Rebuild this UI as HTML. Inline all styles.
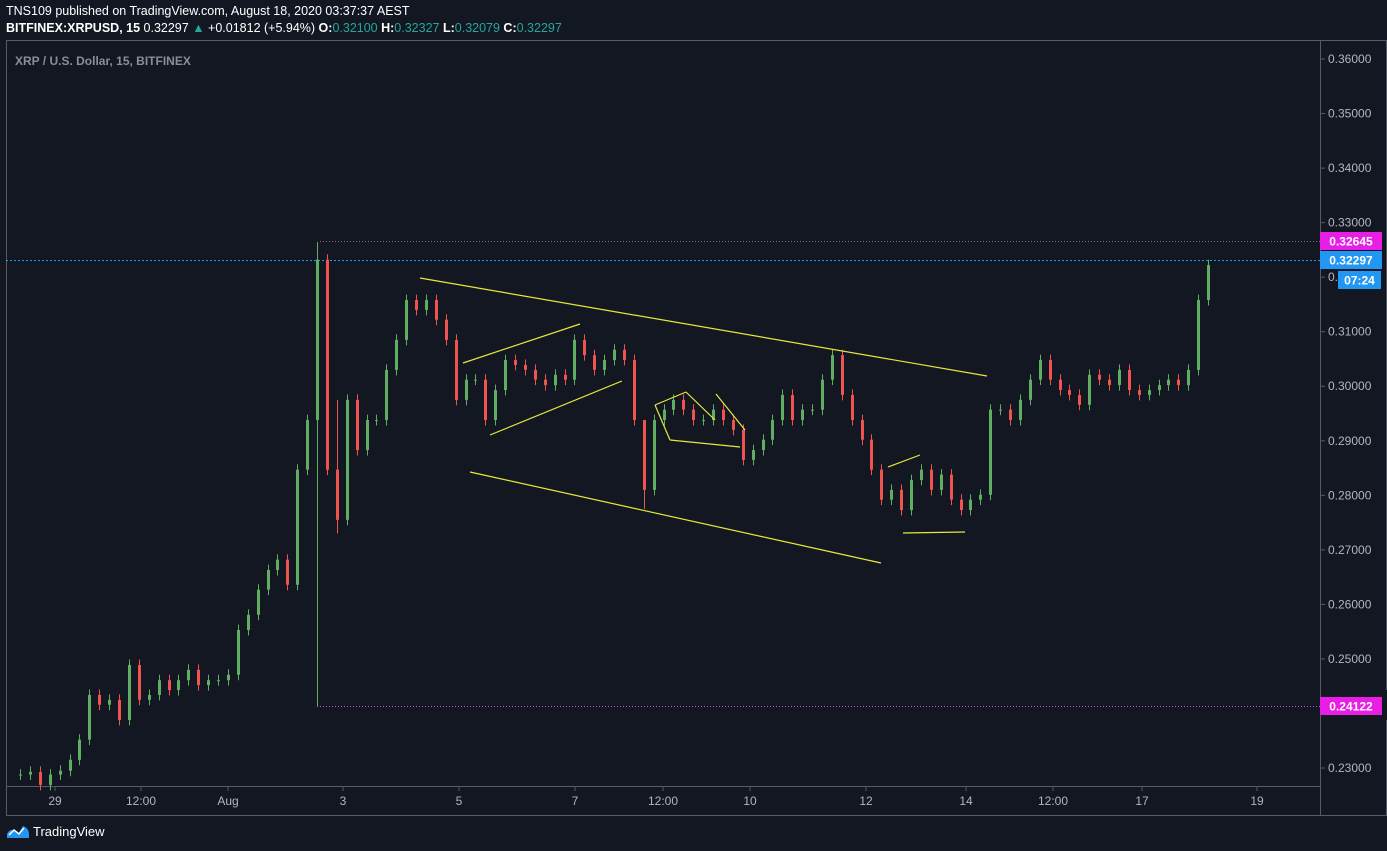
<!DOCTYPE html>
<html><head><meta charset="utf-8"><style>
html,body{margin:0;padding:0;background:#131722;width:1387px;height:851px;overflow:hidden;font-family:"Liberation Sans",sans-serif}
.hdr{position:absolute;left:6px;color:#fff;font-size:12.5px;white-space:nowrap}
.g{color:#26a69a}
</style></head><body>
<div class="hdr" style="top:4px">TNS109 published on TradingView.com, August 18, 2020 03:37:37 AEST</div>
<div class="hdr" style="top:21px;font-weight:bold">BITFINEX:XRPUSD, 15 <span style="font-weight:normal">0.32297 <span class="g">▲</span> +0.01812 (+5.94%)</span> O:<span class="g" style="font-weight:normal">0.32100</span> H:<span class="g" style="font-weight:normal">0.32327</span> L:<span class="g" style="font-weight:normal">0.32079</span> C:<span class="g" style="font-weight:normal">0.32297</span></div>
<svg id="c" width="1387" height="851" style="position:absolute;left:0;top:0"></svg>
<script>
const closes=[0.2288,0.2293,0.2269,0.2288,0.2295,0.2315,0.2352,0.2434,0.2416,0.2425,0.2388,0.2489,0.2425,0.2434,0.2461,0.2443,0.2461,0.2480,0.2452,0.2461,0.2461,0.2471,0.2553,0.2581,0.2627,0.2663,0.2682,0.2636,0.2847,0.2938,0.3232,0.2847,0.2755,0.2975,0.2883,0.2938,0.2938,0.3030,0.3085,0.3158,0.3140,0.3158,0.3122,0.3085,0.2975,0.3012,0.3012,0.2938,0.2993,0.3048,0.3039,0.3030,0.3012,0.3002,0.3021,0.3012,0.3085,0.3057,0.3030,0.3048,0.3067,0.3048,0.2938,0.2810,0.2938,0.2957,0.2975,0.2957,0.2938,0.2938,0.2957,0.2938,0.2920,0.2865,0.2883,0.2902,0.2938,0.2984,0.2938,0.2957,0.2957,0.3012,0.3057,0.2984,0.2938,0.2902,0.2847,0.2792,0.2810,0.2773,0.2828,0.2847,0.2810,0.2838,0.2792,0.2773,0.2792,0.2801,0.2957,0.2957,0.2938,0.2975,0.3012,0.3048,0.3012,0.2993,0.2984,0.2966,0.3021,0.3012,0.3002,0.3030,0.2993,0.2984,0.2993,0.3002,0.3012,0.3002,0.3030,0.3158,0.3222];
const spikeIdx=[30,63,32];
const spikeHigh=[0.32645,0.2938,0.2975];
const spikeLow=[0.24122,0.2775,0.2730];
const priceTicks=[0.36,0.35,0.34,0.33,0.32,0.31,0.30,0.29,0.28,0.27,0.26,0.25,0.24,0.23];
const timeLabels=["29","12:00","Aug","3","5","7","12:00","10","12","14","12:00","17","19"];
const timePos=[55,141,228,343,459,575,663,750,866,966,1053,1142,1257];
const svg=document.getElementById('c');const NS='http://www.w3.org/2000/svg';
function y(p){return 59+(0.36-p)*5454;}
function x(i){return 20+i*9.9;}
function el(t,a,par){const e=document.createElementNS(NS,t);for(const k in a)e.setAttribute(k,a[k]);(par||svg).appendChild(e);return e;}
let f=el('rect',{x:6.5,y:40.5,width:1380,height:775,fill:'none',stroke:'#555a66'});


el('line',{x1:1320.5,y1:40,x2:1320.5,y2:815,stroke:'#555a66'});
el('line',{x1:6,y1:786.5,x2:1320,y2:786.5,stroke:'#555a66'});
let tt=el('text',{x:15,y:65,fill:'#8a8e99','font-size':12,'font-weight':'bold'});tt.textContent='XRP / U.S. Dollar, 15, BITFINEX';


priceTicks.forEach(p=>{const yy=y(p);el('line',{x1:1320,y1:yy,x2:1325,y2:yy,stroke:'#555a66'});
const t=el('text',{x:1328,y:yy+4,fill:'#b2b5be','font-size':12});t.textContent=p.toFixed(5);

});
timeLabels.forEach((l,i)=>{el('line',{x1:timePos[i],y1:786,x2:timePos[i],y2:791,stroke:'#555a66'});
const t=el('text',{x:timePos[i],y:805,fill:'#b2b5be','font-size':12,'text-anchor':'middle'});t.textContent=l;

});
el('line',{x1:320,y1:241.5,x2:1320,y2:241.5,stroke:'#8a6a7a','stroke-dasharray':'1 2'});
el('line',{x1:320,y1:706.5,x2:1320,y2:706.5,stroke:'#e040fb','stroke-dasharray':'1 2'});
el('line',{x1:6,y1:260.5,x2:1320,y2:260.5,stroke:'#2196f3','stroke-dasharray':'2 2'});
closes.forEach((c,i)=>{const o=i?closes[i-1]:c;let hi=Math.max(o,c)+0.001,lo=Math.min(o,c)-0.001;
const k=spikeIdx.indexOf(i);if(k>=0){hi=spikeHigh[k];lo=spikeLow[k];}
const col=c>=o?'#5fae62':'#ef5350';const xx=Math.round(x(i))+0.5;
el('line',{x1:xx,y1:y(hi),x2:xx,y2:y(lo),stroke:col,'stroke-width':1});
const r=el('rect',{x:xx-1.5,y:Math.min(y(o),y(c)),width:3,height:Math.max(1,Math.abs(y(o)-y(c))),fill:col});

});
const Y='#e8e83a';
[[420,278,987,376],[470,472,881,563],[463,363,580,324],[490,435,622,381],[655,405,686,392],[686,392,715,420],[655,405,670,440],[670,440,740,447],[716,394,745,430],[888,467,920,455],[903,533,965,532]].forEach(l=>{
const e=el('line',{x1:l[0],y1:l[1],x2:l[2],y2:l[3],stroke:Y,'stroke-width':1.2});

});
function badge(bx,by,w,txt,col,name){const g=el('g',{});
el('rect',{x:bx,y:by,width:w,height:18,fill:col},g);const t=el('text',{x:bx+w/2,y:by+13.5,fill:'#fff','font-size':12,'font-weight':'bold','text-anchor':'middle'},g);t.textContent=txt;}
el('rect',{x:1321,y:690,width:66,height:30,fill:'#131722'});
badge(1320,232,62,'0.32645','#e91ee5','high-price-badge');
badge(1320,251,62,'0.32297','#2196f3','last-price-badge');
badge(1338,271,43,'07:24','#2196f3','countdown-badge');
badge(1320,697,62,'0.24122','#e91ee5','low-price-badge');
</script>
<div style="position:absolute;left:6px;top:823px;color:#fff;font-size:13px;display:flex;align-items:center">
<svg width="24" height="16"><path d="M1 15 L1 11 Q4 5 8 8 L12 11 L17 3 Q23 5 23 12 L23 15 Z" fill="#2196f3"/><path d="M3 12 L8 7 L13 11 L18 5" stroke="#fff" stroke-width="1.5" fill="none"/></svg>
<span style="margin-left:3px">TradingView</span></div>
</body></html>
